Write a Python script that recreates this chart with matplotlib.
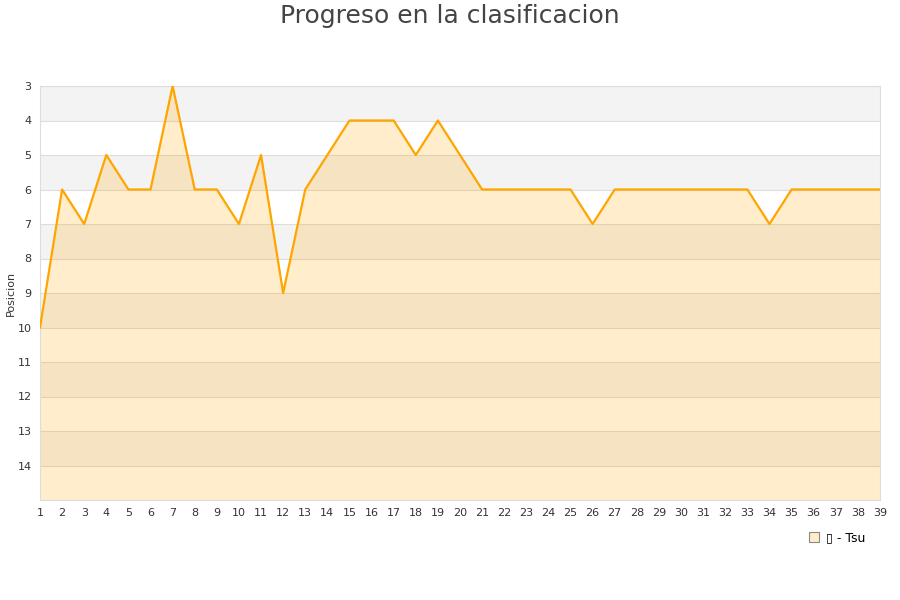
import matplotlib
matplotlib.use("Agg")
import matplotlib.pyplot as plt
from matplotlib.patches import Patch

# datos
jornadas = list(range(1, 40))
posicion = [10, 6, 7, 5, 6, 6, 3, 6, 6, 7, 5, 9, 6, 5, 4, 4, 4, 5, 4, 5,
            6, 6, 6, 6, 6, 7, 6, 6, 6, 6, 6, 6, 6, 7, 6, 6, 6, 6, 6]
y_ticks = list(range(3, 15))
jugador = "\u25af - Tsu"

fig = plt.figure(figsize=(9, 6), dpi=100)
ax = fig.add_axes([40 / 900, 1 - 500 / 600, 840 / 900, 414 / 600])

# bandas alternas
for y0 in range(3, 15, 2):
    ax.axhspan(y0, y0 + 1, color="#f3f3f3", zorder=0, lw=0)
for y in range(3, 16):
    ax.axhline(y, color="#dddddd", lw=0.8, zorder=1)

ax.fill_between(jornadas, posicion, 15, color="#ffa500", alpha=0.2, lw=0, zorder=2)
ax.plot(jornadas, posicion, color="#ffa500", lw=1.6, zorder=3)

ax.set_xlim(1, 39)
ax.set_ylim(15, 3)
ax.set_xticks(jornadas)
ax.set_yticks(y_ticks)
ax.tick_params(axis="both", labelsize=8, colors="#333333", length=0, pad=6)
for s in ax.spines.values():
    s.set_color("#dddddd")
fig.text(11 / 900, 1 - 293 / 600, "Posicion", fontsize=8, color="#333333",
         rotation=90, ha="center", va="center")

fig.text(0.5, 1 - 16 / 600, "Progreso en la clasificacion", fontsize=18,
         color="#444444", ha="center", va="center")

leg = fig.legend(handles=[Patch(facecolor="#ffecc8", edgecolor="#888888", lw=0.8, label=jugador)],
                 loc="center", bbox_to_anchor=(837 / 900, 1 - 538 / 600),
                 frameon=False, fontsize=9, handlelength=0.8, handleheight=0.8,
                 handletextpad=0.6)

fig.savefig("out.png", dpi=100)
